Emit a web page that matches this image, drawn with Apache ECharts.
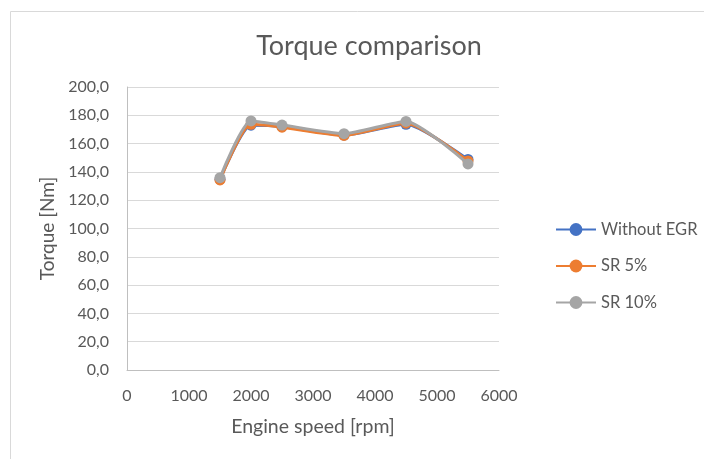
<!DOCTYPE html>
<html>
<head>
<meta charset="utf-8">
<script src="https://cdn.jsdelivr.net/npm/echarts@6/dist/echarts.min.js"></script>
<style>
html,body{margin:0;padding:0;background:#fff;}
#chart{width:704px;height:459px;}
</style>
</head>
<body>
<div id="chart"></div>
<script>
const speeds = [1500, 2000, 2500, 3500, 4500, 5500];
const withoutEGR = [134.8, 173.0, 172.0, 166.0, 173.6, 148.8];
const sr5 = [134.3, 173.6, 171.6, 165.8, 174.4, 147.7];
const sr10 = [135.9, 176.0, 173.1, 167.0, 175.7, 145.6];
const seriesNames = ['Without EGR', 'SR 5%', 'SR 10%'];
const seriesColors = ['#4472C4', '#ED7D31', '#A5A5A5'];
const seriesValues = [withoutEGR, sr5, sr10];

const FONT = 'Lato';
const TXT = '#595959';
const chart = echarts.init(document.getElementById('chart'));
chart.setOption({
  animation: false,
  textStyle: { fontFamily: FONT },
  graphic: [{
    type: 'rect', left: 8, top: 9, silent: true,
    shape: { width: 800, height: 600 },
    style: { fill: 'none', stroke: '#D9D9D9', lineWidth: 1 }
  }],
  title: {
    text: 'Torque comparison',
    left: 364, top: 28, textAlign: 'center',
    textStyle: { fontFamily: FONT, fontSize: 27, fontWeight: 'normal', color: TXT }
  },
  legend: {
    orient: 'vertical', left: 550, top: 216,
    itemWidth: 40, itemHeight: 16, itemGap: 19.5,
    data: seriesNames,
    textStyle: { fontFamily: FONT, fontSize: 16.5, color: TXT }
  },
  grid: { left: 127, right: 205, top: 87, bottom: 89, containLabel: false },
  xAxis: {
    type: 'value', min: 0, max: 6000, interval: 1000,
    name: 'Engine speed [rpm]', nameLocation: 'middle', nameGap: 47,
    nameTextStyle: { fontFamily: FONT, fontSize: 19.5, color: TXT },
    axisLine: { show: true, lineStyle: { color: '#BFBFBF', width: 1 } },
    axisTick: { show: false },
    splitLine: { show: false },
    axisLabel: { fontFamily: FONT, fontSize: 16, color: TXT, margin: 18, formatter: v => String(v) }
  },
  yAxis: {
    type: 'value', min: 0, max: 200, interval: 20,
    name: 'Torque [Nm]', nameLocation: 'middle', nameGap: 68, nameRotate: 90,
    nameTextStyle: { fontFamily: FONT, fontSize: 19, color: TXT },
    axisLine: { show: true, lineStyle: { color: '#BFBFBF', width: 1 } },
    axisTick: { show: false },
    splitLine: { show: true, lineStyle: { color: '#D9D9D9', width: 1 } },
    axisLabel: {
      fontFamily: FONT, fontSize: 16, color: TXT, margin: 18,
      formatter: v => v.toFixed(1).replace('.', ',')
    }
  },
  series: seriesNames.map((name, i) => ({
    name: name,
    type: 'line',
    smooth: 0.2,
    symbol: 'circle',
    symbolSize: 11,
    data: speeds.map((s, j) => [s, seriesValues[i][j]]),
    lineStyle: { color: seriesColors[i], width: 3 },
    itemStyle: { color: seriesColors[i] },
    z: 2 + i
  }))
});
</script>
</body>
</html>
